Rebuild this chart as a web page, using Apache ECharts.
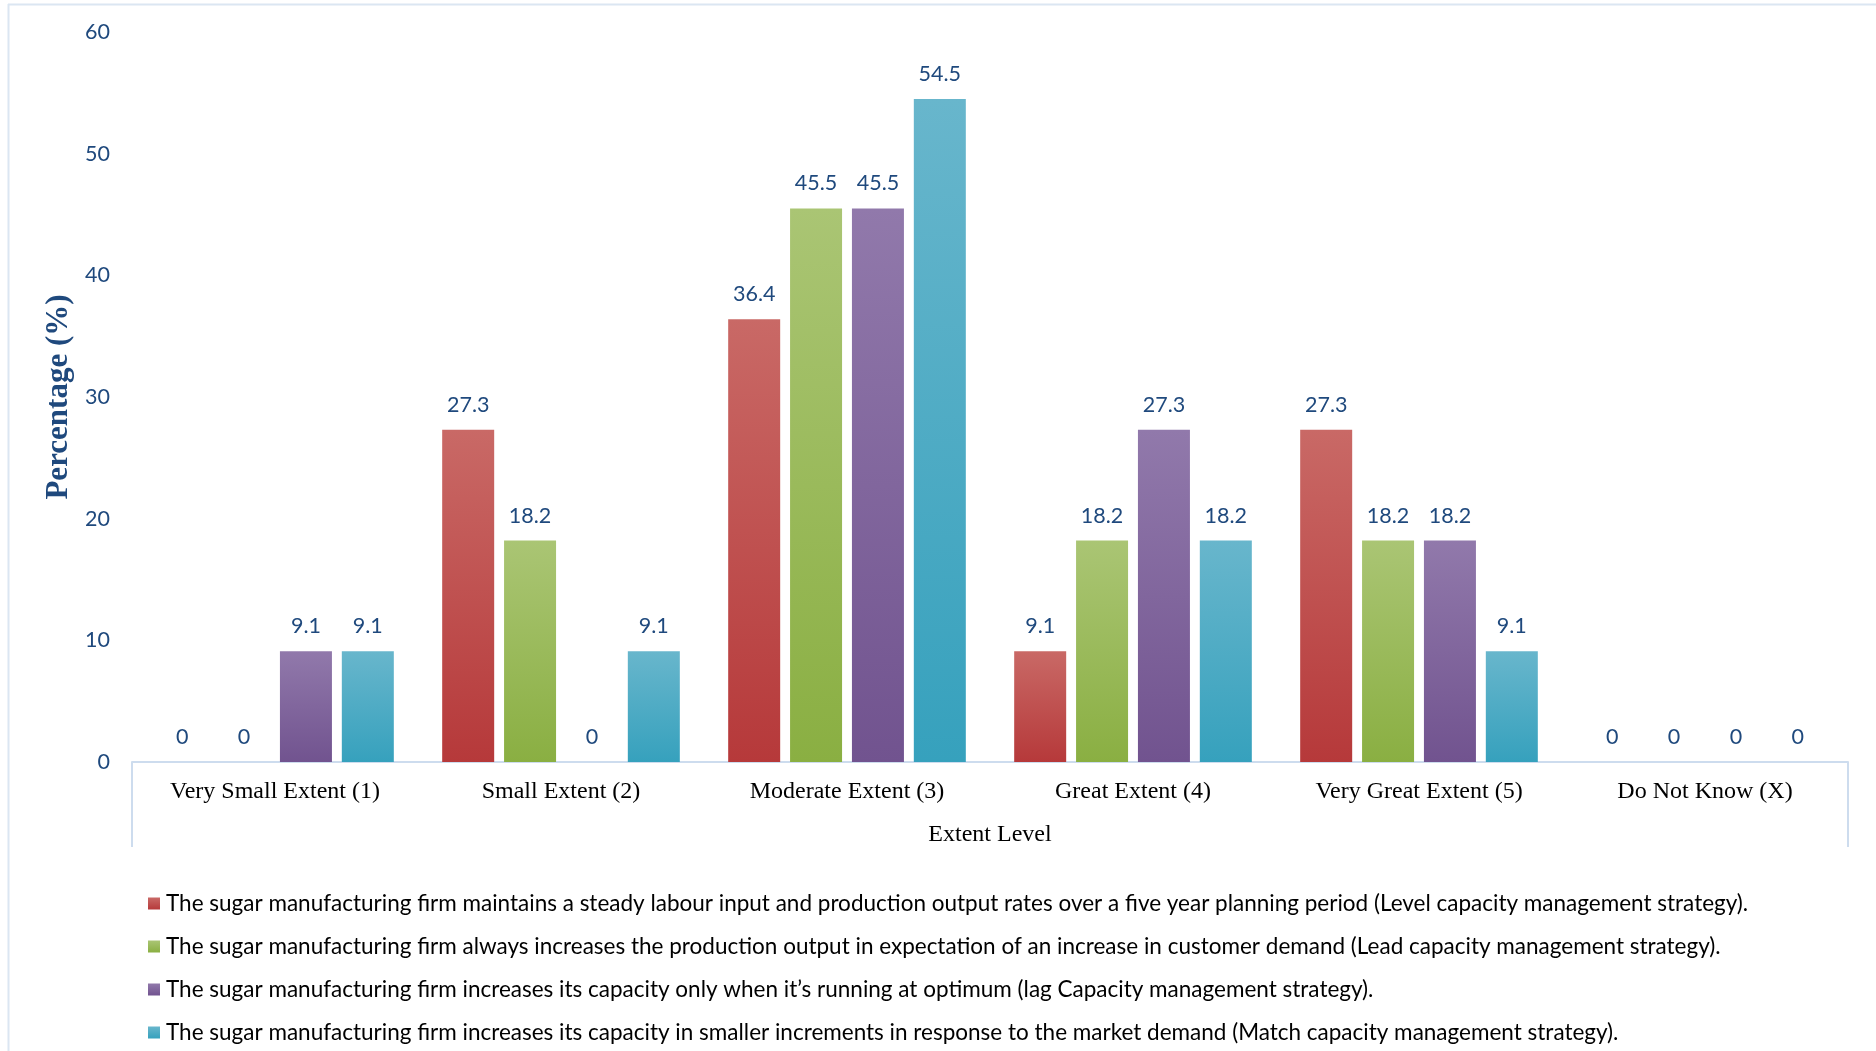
<!DOCTYPE html>
<html>
<head>
<meta charset="utf-8">
<script src="https://cdn.jsdelivr.net/npm/echarts@6/dist/echarts.min.js"></script>
<style>
html,body{margin:0;padding:0;background:#fff;}
#chart{width:1876px;height:1051px;}
</style>
</head>
<body>
<div id="chart"></div>
<script>
const categories = ['Very Small Extent (1)', 'Small Extent (2)', 'Moderate Extent (3)', 'Great Extent (4)', 'Very Great Extent (5)', 'Do Not Know (X)'];
const seriesNames = [
  'The sugar manufacturing firm maintains a steady labour input and production output rates over a five year planning period (Level capacity management strategy).',
  'The sugar manufacturing firm always increases the production output in expectation of an increase in customer demand (Lead capacity management strategy).',
  'The sugar manufacturing firm increases its capacity only when it\u2019s running at optimum (lag Capacity management strategy).',
  'The sugar manufacturing firm increases its capacity in smaller increments in response to the market demand (Match capacity management strategy).'
];
const levelValues = [0, 27.3, 36.4, 9.1, 27.3, 0];
const leadValues  = [0, 18.2, 45.5, 18.2, 18.2, 0];
const lagValues   = [9.1, 0, 45.5, 27.3, 18.2, 0];
const matchValues = [9.1, 9.1, 54.5, 18.2, 9.1, 0];
const yTicks = { min: 0, max: 60, interval: 10 };

const colorPairs = [
  ['#c96966', '#b6393a'],
  ['#aac574', '#8aaf42'],
  ['#9179ab', '#71538f'],
  ['#68b6cc', '#36a1bd']
];
const grad = (p) => new echarts.graphic.LinearGradient(0, 0, 0, 1, [
  { offset: 0, color: p[0] }, { offset: 1, color: p[1] }
]);
const valueSets = [levelValues, leadValues, lagValues, matchValues];

const labelFont = 'Lato, "Open Sans", sans-serif';
const serif = '"Liberation Serif", "Times New Roman", serif';
const blue = '#1f497d';
const lineColor = '#cddcee';

const chart = echarts.init(document.getElementById('chart'));
chart.setOption({
  animation: false,
  backgroundColor: '#fff',
  graphic: [
    { type: 'line', shape: { x1: 8.5, y1: 4, x2: 8.5, y2: 1051 }, style: { stroke: '#dbe6f2', lineWidth: 2 } },
    { type: 'line', shape: { x1: 8, y1: 4.5, x2: 1876, y2: 4.5 }, style: { stroke: '#dbe6f2', lineWidth: 2 } }
  ],
  grid: { left: 132, right: 28, top: 32, bottom: 289, containLabel: false },
  legend: {
    orient: 'vertical',
    left: 148,
    top: 892,
    padding: 0,
    itemWidth: 12,
    itemHeight: 12,
    itemGap: 20,
    icon: 'rect',
    textStyle: { fontFamily: labelFont, fontSize: 22.5, lineHeight: 23, color: '#000', padding: [0, 0, 0, 1] },
    data: seriesNames
  },
  xAxis: {
    type: 'category',
    data: categories,
    name: 'Extent Level',
    nameLocation: 'middle',
    nameGap: 61,
    nameTextStyle: { fontFamily: serif, fontSize: 24, color: '#000' },
    axisLine: { show: true, lineStyle: { color: lineColor, width: 2 } },
    axisTick: {
      show: true,
      length: 85,
      interval: function (index) { return index === 0 || index === categories.length; },
      lineStyle: { color: lineColor, width: 2 }
    },
    axisLabel: { fontFamily: serif, fontSize: 24, color: '#000', margin: 18 }
  },
  yAxis: {
    type: 'value',
    min: yTicks.min,
    max: yTicks.max,
    interval: yTicks.interval,
    name: 'Percentage (%)',
    nameLocation: 'middle',
    nameRotate: 90,
    nameGap: 55,
    nameTextStyle: { fontFamily: serif, fontSize: 31, fontWeight: 'bold', color: blue },
    axisLine: { show: false },
    axisTick: { show: false },
    splitLine: { show: false },
    axisLabel: { fontFamily: labelFont, fontSize: 21.5, color: blue, margin: 22 }
  },
  series: seriesNames.map((name, i) => ({
    name: name,
    type: 'bar',
    data: valueSets[i],
    barWidth: 52,
    barGap: '19%',
    itemStyle: { color: grad(colorPairs[i]) },
    label: {
      show: true,
      position: 'top',
      distance: 14,
      fontFamily: labelFont,
      fontSize: 21.5,
      color: blue
    }
  }))
});
</script>
</body>
</html>
